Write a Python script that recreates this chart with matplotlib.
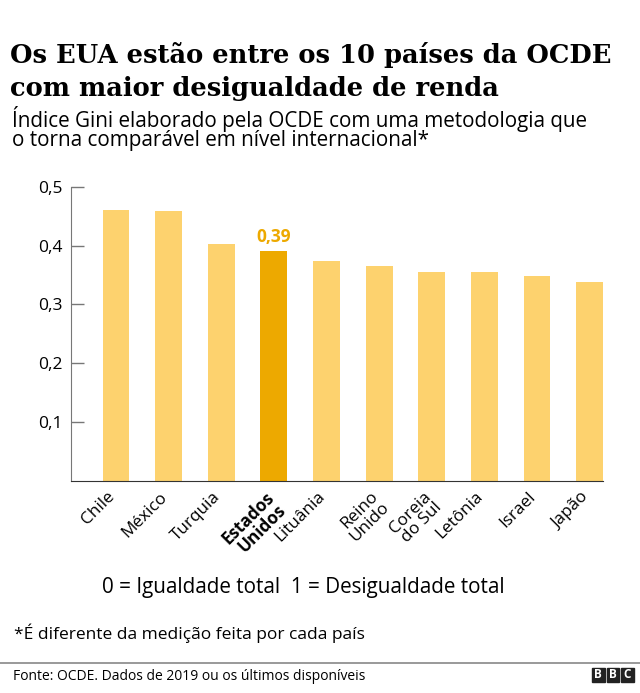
import matplotlib
matplotlib.use("Agg")
import matplotlib.pyplot as plt
from matplotlib.patches import Rectangle
from matplotlib.transforms import ScaledTranslation

# dados (índice Gini, OCDE)
paises = ["Chile", "México", "Turquia", "Estados\nUnidos", "Lituânia",
          "Reino\nUnido", "Coreia\ndo Sul", "Letônia", "Israel", "Japão"]
gini = [0.460, 0.458, 0.403, 0.390, 0.373, 0.366, 0.355, 0.355, 0.348, 0.338]
destaque = "Estados\nUnidos"
yticks = [0.1, 0.2, 0.3, 0.4, 0.5]
yticklabels = ["0,1", "0,2", "0,3", "0,4", "0,5"]

CLARO = "#FDD26E"
ESCURO = "#EDA900"
SANS = "Open Sans"

W, H = 640, 693
fig = plt.figure(figsize=(W / 100, H / 100), dpi=100)
ax = fig.add_axes([70.7 / W, 1 - 481 / H, (603 - 70.7) / W, (481 - 186.7) / H])

x = list(range(len(paises)))
cores = [ESCURO if p == destaque else CLARO for p in paises]
ax.bar(x, gini, width=0.51, color=cores, zorder=2)

i = paises.index(destaque)
ax.text(i, gini[i] + 0.01, f"{gini[i]:.2f}".replace(".", ","), ha="center", va="bottom",
        color=ESCURO, fontsize=12.5, fontweight="bold", family=SANS)

ax.set_xlim(-0.86, 9.255)
ax.set_ylim(0, 0.5)
ax.set_yticks(yticks)
ax.set_yticklabels(yticklabels, fontsize=12.5, family=SANS)
ax.tick_params(axis="y", direction="in", length=9, color="#777777", width=1, pad=6)
ax.set_xticks(x)
ax.set_xticklabels(paises, rotation=45, ha="right", va="top", rotation_mode="anchor",
                   fontsize=12.3, family=SANS, linespacing=0.95)
ax.tick_params(axis="x", length=0, pad=7)
desloc = ScaledTranslation(-9 / 100, 2 / 100, fig.dpi_scale_trans)
for lab in ax.get_xticklabels():
    lab.set_transform(lab.get_transform() + desloc)
    if lab.get_text() == destaque:
        lab.set_fontweight("bold")
for s in ("top", "right"):
    ax.spines[s].set_visible(False)
ax.spines["left"].set_color("#777777")
ax.spines["bottom"].set_color("#333333")

# títulos e textos
fig.text(10 / W, 1 - 63 / H, "Os EUA estão entre os 10 países da OCDE", fontsize=18.5,
         fontweight="bold", family="DejaVu Serif", ha="left", va="baseline")
fig.text(10 / W, 1 - 96 / H, "com maior desigualdade de renda", fontsize=18.5,
         fontweight="bold", family="DejaVu Serif", ha="left", va="baseline")
fig.text(12 / W, 1 - 127 / H, "Índice Gini elaborado pela OCDE com uma metodologia que",
         fontsize=14.9, family=SANS, ha="left", va="baseline")
fig.text(12 / W, 1 - 146 / H, "o torna comparável em nível internacional*",
         fontsize=14.9, family=SANS, ha="left", va="baseline")
fig.text(303 / W, 1 - 588 / H, "0 = Igualdade total  1 = Desigualdade total",
         fontsize=14.9, family=SANS, ha="center", va="center")
fig.text(14 / W, 1 - 633 / H, "*É diferente da medição feita por cada país",
         fontsize=12.5, family=SANS, ha="left", va="center")
fig.add_artist(plt.Line2D([0, 1], [1 - 663 / H] * 2, color="#888888", lw=1.2,
                          transform=fig.transFigure))
fig.text(13 / W, 1 - 677 / H, "Fonte: OCDE. Dados de 2019 ou os últimos disponíveis",
         fontsize=10, family=SANS, ha="left", va="center")
for k, letra in enumerate("BBC"):
    x0 = 592 + k * 14.5
    fig.add_artist(Rectangle((x0 / W, 1 - 682 / H), 12.5 / W, 14 / H, color="#222222",
                             transform=fig.transFigure))
    fig.text((x0 + 6.25) / W, 1 - 675 / H, letra, color="white", fontsize=8.5,
             fontweight="bold", family=SANS, ha="center", va="center")

fig.savefig("out.png", dpi=100)
